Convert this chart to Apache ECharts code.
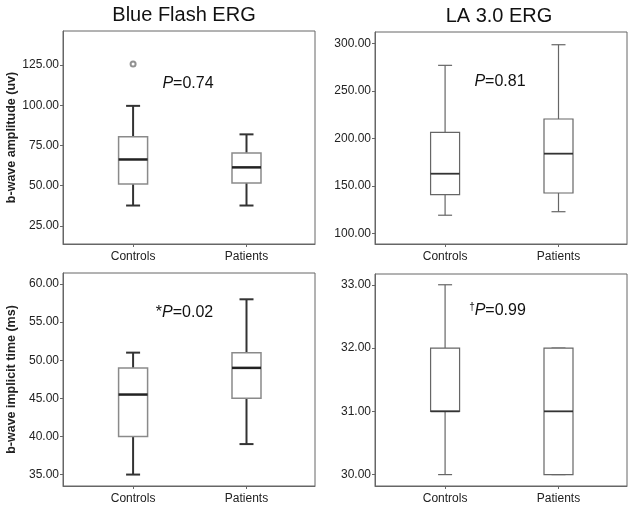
<!DOCTYPE html>
<html>
<head>
<meta charset="utf-8">
<script src="https://cdn.jsdelivr.net/npm/echarts@6/dist/echarts.min.js"></script>
<style>html,body{margin:0;padding:0;background:#fff}#c{width:635px;height:508px}</style>
</head>
<body>
<div id="c"></div>
<script>
// ---- data ----
const categories = ['Controls', 'Patients'];
// [min, Q1, median, Q3, max]
const blueAmplitude = [[37.7, 51.0, 66.3, 80.4, 99.6], [37.7, 51.7, 61.4, 70.4, 81.9]];
const blueAmplitudeOutliers = [[0, 125.6]];
const laAmplitude = [[119.0, 140.6, 162.7, 206.3, 276.8], [122.7, 142.4, 183.8, 220.3, 298.5]];
const blueTime = [[35.0, 40.0, 45.5, 49.0, 51.0], [39.0, 45.0, 49.0, 51.0, 58.0]];
const laTime = [[30.0, 31.0, 31.0, 32.0, 33.0], [30.0, 30.0, 31.0, 32.0, 32.0]];
const blueAmplitudeTicks = [25, 50, 75, 100, 125];
const laAmplitudeTicks = [100, 150, 200, 250, 300];
const blueTimeTicks = [35, 40, 45, 50, 55, 60];
const laTimeTicks = [30, 31, 32, 33];
const panelTitles = ['Blue Flash ERG', 'LA 3.0 ERG'];
const yNames = ['b-wave amplitude (uv)', 'b-wave implicit time (ms)'];
const pTexts = ['{i|P}=0.74', '{i|P}=0.81', '*{i|P}=0.02', '{s|\u2020}{i|P}=0.99'];

const FONT = "'Liberation Sans', Arial, Helvetica, sans-serif";
const grids = [
  {left: 63, top: 31, width: 252, height: 213},
  {left: 375, top: 32, width: 252, height: 212},
  {left: 63, top: 273, width: 252, height: 213},
  {left: 375, top: 274, width: 252, height: 212}
];
const yRanges = [[13.8, 146.1], [88.7, 311.9], [33.5, 61.45], [29.82, 33.17]];
const yTicks = [blueAmplitudeTicks, laAmplitudeTicks, blueTimeTicks, laTimeTicks];
const boxes = [blueAmplitude, laAmplitude, blueTime, laTime];
const heavy = [true, false, true, false];

function makeRender(isHeavy) {
  const whiskerStyle = isHeavy ? {stroke: '#333', lineWidth: 2} : {stroke: '#666', lineWidth: 1.2};
  const boxStyle = isHeavy ? {stroke: '#8a8a8a', lineWidth: 1.5, fill: '#fff'} : {stroke: '#666', lineWidth: 1.2, fill: '#fff'};
  const medStyle = isHeavy ? {stroke: '#222', lineWidth: 2.5} : {stroke: '#333', lineWidth: 1.8};
  return function (params, api) {
    const x = api.value(0);
    const pMin = api.coord([x, api.value(1)]);
    const pQ1 = api.coord([x, api.value(2)]);
    const pMed = api.coord([x, api.value(3)]);
    const pQ3 = api.coord([x, api.value(4)]);
    const pMax = api.coord([x, api.value(5)]);
    const cx = pMin[0];
    const bw = 29, cw = 14;
    return {
      type: 'group',
      children: [
        {type: 'line', shape: {x1: cx, y1: pMin[1], x2: cx, y2: pQ1[1]}, style: whiskerStyle},
        {type: 'line', shape: {x1: cx, y1: pQ3[1], x2: cx, y2: pMax[1]}, style: whiskerStyle},
        {type: 'line', shape: {x1: cx - cw / 2, y1: pMin[1], x2: cx + cw / 2, y2: pMin[1]}, style: whiskerStyle},
        {type: 'line', shape: {x1: cx - cw / 2, y1: pMax[1], x2: cx + cw / 2, y2: pMax[1]}, style: whiskerStyle},
        {type: 'rect', shape: {x: cx - bw / 2, y: pQ3[1], width: bw, height: pQ1[1] - pQ3[1]}, style: boxStyle},
        {type: 'line', shape: {x1: cx - bw / 2, y1: pMed[1], x2: cx + bw / 2, y2: pMed[1]}, style: medStyle}
      ]
    };
  };
}

const xAxes = [], yAxes = [], series = [];
for (let i = 0; i < 4; i++) {
  xAxes.push({
    type: 'value', gridIndex: i, min: -0.618, max: 1.604,
    splitLine: {show: false},
    axisLine: {show: true, onZero: false, lineStyle: {color: '#666', width: 1}},
    axisTick: {show: true, customValues: [0, 1], length: 3, lineStyle: {color: '#666'}},
    axisLabel: {customValues: [0, 1], formatter: v => categories[Math.round(v)], fontSize: 12, color: '#222', fontFamily: FONT, margin: 7}
  });
  const isLeft = (i % 2 === 0);
  yAxes.push({
    type: 'value', gridIndex: i, min: yRanges[i][0], max: yRanges[i][1],
    splitLine: {show: false},
    axisLine: {show: true, onZero: false, lineStyle: {color: '#666', width: 1}},
    axisTick: {show: true, customValues: yTicks[i], length: 3, lineStyle: {color: '#666'}},
    axisLabel: {customValues: yTicks[i], formatter: v => v.toFixed(2), fontSize: 12, color: '#222', fontFamily: FONT, margin: 4},
    name: isLeft ? yNames[i / 2] : '',
    nameLocation: 'middle', nameRotate: 90, nameGap: 45,
    nameTextStyle: {fontSize: 12.5, fontWeight: 'bold', color: '#222', fontFamily: FONT}
  });
  series.push({
    type: 'custom', xAxisIndex: i, yAxisIndex: i,
    renderItem: makeRender(heavy[i]),
    encode: {x: 0, y: [1, 2, 3, 4, 5]},
    data: boxes[i].map((b, k) => [k].concat(b)),
    silent: true, animation: false
  });
}
series.push({
  type: 'scatter', xAxisIndex: 0, yAxisIndex: 0,
  data: blueAmplitudeOutliers,
  symbol: 'emptyCircle', symbolSize: 5,
  itemStyle: {color: '#777', borderColor: '#777', borderWidth: 1},
  silent: true, animation: false, z: 5
});

const textCommon = {fontFamily: FONT, fill: '#111', align: 'center', verticalAlign: 'middle'};
const rich = {i: {fontStyle: 'italic', fontSize: 16, fontFamily: FONT}, s: {fontSize: 10, fontFamily: FONT, verticalAlign: 'top', padding: [0, 0, 8, 0]}};
const pPos = [[188, 84], [500, 82], [184.5, 313], [497.5, 311]];
const graphic = [
  {type: 'text', x: 184, y: 15, style: Object.assign({text: panelTitles[0], fontSize: 20}, textCommon)},
  {type: 'text', x: 499, y: 16, style: Object.assign({text: panelTitles[1], fontSize: 20}, textCommon)}
];
pTexts.forEach((t, k) => {
  graphic.push({type: 'text', x: pPos[k][0], y: pPos[k][1], style: Object.assign({text: t, fontSize: 16, rich: rich}, textCommon)});
});

const chart = echarts.init(document.getElementById('c'), null, {renderer: 'canvas'});
chart.setOption({
  animation: false,
  backgroundColor: '#fff',
  grid: grids.map(g => Object.assign({show: true, borderColor: '#666', borderWidth: 1, backgroundColor: 'transparent'}, g)),
  xAxis: xAxes,
  yAxis: yAxes,
  series: series,
  graphic: graphic
});
</script>
</body>
</html>
